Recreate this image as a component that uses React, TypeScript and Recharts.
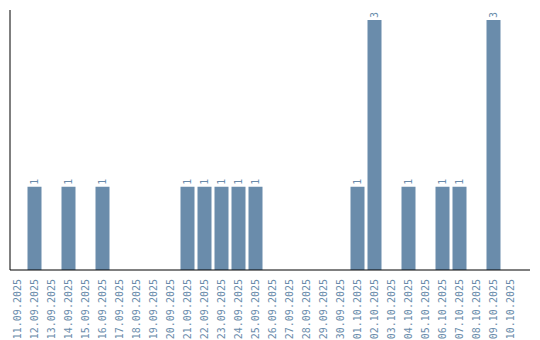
import { Bar, BarChart, LabelList, XAxis, YAxis } from 'recharts';

const days = [
  '11.09.2025', '12.09.2025', '13.09.2025', '14.09.2025', '15.09.2025',
  '16.09.2025', '17.09.2025', '18.09.2025', '19.09.2025', '20.09.2025',
  '21.09.2025', '22.09.2025', '23.09.2025', '24.09.2025', '25.09.2025',
  '26.09.2025', '27.09.2025', '28.09.2025', '29.09.2025', '30.09.2025',
  '01.10.2025', '02.10.2025', '03.10.2025', '04.10.2025', '05.10.2025',
  '06.10.2025', '07.10.2025', '08.10.2025', '09.10.2025', '10.10.2025',
];

const counts = [
  0, 1, 0, 1, 0, 1, 0, 0, 0, 0,
  1, 1, 1, 1, 1, 0, 0, 0, 0, 0,
  1, 3, 0, 1, 0, 1, 1, 0, 3, 0,
];

const data = days.map((day, i) => ({ day, count: counts[i] }));

const BLUE = '#6a8cab';
const FONT = '"DejaVu Sans Mono", monospace';

const DayTick = (props: any) => {
  const { x, y, payload } = props;
  const ty = y + 7;
  return (
    <text
      x={x}
      y={ty}
      transform={`rotate(-90, ${x}, ${ty})`}
      textAnchor="end"
      dominantBaseline="central"
      fill={BLUE}
      fontSize={10}
      fontFamily={FONT}
    >
      {payload.value}
    </text>
  );
};

const CountLabel = (props: any) => {
  const { x, y, width, value } = props;
  if (!value) return null;
  const cx = x + width / 2;
  const ty = y - 2;
  return (
    <text
      x={cx}
      y={ty}
      transform={`rotate(-90, ${cx}, ${ty})`}
      textAnchor="start"
      dominantBaseline="central"
      fill={BLUE}
      fontSize={10}
      fontFamily={FONT}
    >
      {value}
    </text>
  );
};

export default function App() {
  return (
    <div style={{ position: 'absolute', left: 0, top: 0 }}>
      <BarChart
        width={540}
        height={340}
        data={data}
        margin={{ top: 10, right: 10, left: 9, bottom: 0 }}
      >
        <XAxis
          dataKey="day"
          interval={0}
          tickLine={false}
          tickSize={0}
          tick={<DayTick />}
          axisLine={{ stroke: '#000' }}
          padding={{ left: -1.5, right: 11.5 }}
          height={70}
        />
        <YAxis
          width={1}
          domain={[0, 3.12]}
          tick={false}
          tickLine={false}
          axisLine={{ stroke: '#000' }}
        />
        <Bar dataKey="count" fill={BLUE} barSize={14} isAnimationActive={false}>
          <LabelList dataKey="count" content={<CountLabel />} />
        </Bar>
      </BarChart>
    </div>
  );
}
